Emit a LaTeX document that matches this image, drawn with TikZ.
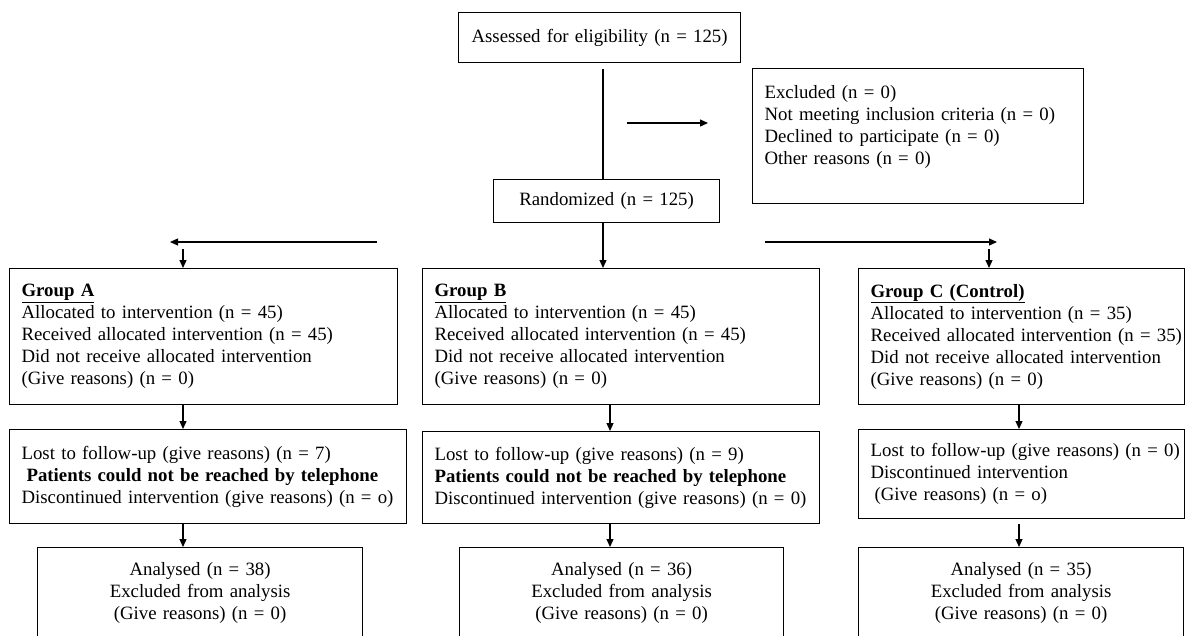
\documentclass[tikz,border=0pt]{standalone}
\usepackage{fontspec}
\setmainfont{Liberation Serif}
\usetikzlibrary{arrows.meta}

\begin{document}
\begin{tikzpicture}[x=1pt, y=-1pt, line join=miter,
    >={Triangle[length=8pt,width=7pt]},
    flowbox/.style={draw, line width=1.2pt, anchor=north west, inner xsep=12pt, inner ysep=4pt,
      align=center, font=\fontsize{18.8}{22}\selectfont},
    listbox/.style={flowbox, align=left},
    link/.style={line width=1.2pt}]

  \useasboundingbox (0,0) rectangle (1185,635);
  \clip (0,0) rectangle (1185,635);

  % columns of the vertical connectors
  \coordinate (colT) at (603,0);
  \coordinate (colA) at (183,0);
  \coordinate (colB) at (610,0);
  \coordinate (colC) at (1019,0);

  % enrolment
  \node[flowbox, text width=258pt, minimum height=50pt] (assess) at (458,12) {Assessed for eligibility (n = 125)};
  \node[listbox, text width=307pt, minimum height=135pt] (excluded) at (752,68)
    {Excluded (n = 0)\\ Not meeting inclusion criteria (n = 0)\\ Declined to participate (n = 0)\\ Other reasons (n = 0)\\ \mbox{}};
  \node[flowbox, text width=202pt, minimum height=43pt] (random) at (493,179) {Randomized (n = 125)};

  % allocation
  \node[listbox, text width=364pt, minimum height=136pt] (groupA) at (9,268)
    {\underline{\textbf{Group A}}\\ Allocated to intervention (n = 45)\\ Received allocated intervention (n = 45)\\
     Did not receive allocated intervention\\ (Give reasons) (n = 0)};
  \node[listbox, text width=373pt, minimum height=136pt] (groupB) at (422,268)
    {\underline{\textbf{Group B}}\\ Allocated to intervention (n = 45)\\ Received allocated intervention (n = 45)\\
     Did not receive allocated intervention\\ (Give reasons) (n = 0)};
  \node[listbox, text width=302pt, minimum height=136pt] (groupC) at (858,268)
    {\underline{\textbf{Group C (Control)}}\\ Allocated to intervention (n = 35)\\ \mbox{Received allocated intervention (n = 35)}\\
     Did not receive allocated intervention\\ (Give reasons) (n = 0)};

  % follow-up
  \node[listbox, text width=373pt, minimum height=94pt] (lossA) at (9,429)
    {Lost to follow-up (give reasons) (n = 7)\\ \hspace*{5pt}\textbf{Patients could not be reached by telephone}\\
     Discontinued intervention (give reasons) (n = o)};
  \node[listbox, text width=373pt, minimum height=92pt] (lossB) at (422,431)
    {Lost to follow-up (give reasons) (n = 9)\\ \textbf{Patients could not be reached by telephone}\\
     Discontinued intervention (give reasons) (n = 0)};
  \node[listbox, text width=302pt, minimum height=89pt] (lossC) at (858,429)
    {\mbox{Lost to follow-up (give reasons) (n = 0)}\\ Discontinued intervention\\ \hspace*{4pt}(Give reasons) (n = o)};

  % analysis
  \node[flowbox, text width=301pt, minimum height=91pt] (analysA) at (37,547)
    {Analysed (n = 38)\\ Excluded from analysis\\ (Give reasons) (n = 0)};
  \node[flowbox, text width=300pt, minimum height=91pt] (analysB) at (459,547)
    {Analysed (n = 36)\\ Excluded from analysis\\ (Give reasons) (n = 0)};
  \node[flowbox, text width=301pt, minimum height=91pt] (analysC) at (858,547)
    {Analysed (n = 35)\\ Excluded from analysis\\ (Give reasons) (n = 0)};

  % connectors
  \draw[link] ([yshift=-6pt]assess.south -| colT) -- (random.north -| colT);
  \coordinate (exclFrom) at (627,123);
  \coordinate (exclTo) at (708,123);
  \draw[link,->] (exclFrom) -- (exclTo);
  \draw[link,->] (random.south -| colT) -- (groupB.north -| colT);

  \coordinate (leftFrom) at (377,242);
  \coordinate (leftTo) at (170,242);
  \coordinate (rightFrom) at (765,242);
  \coordinate (rightTo) at (997,242);
  \draw[link,->] (leftFrom) -- (leftTo);
  \draw[link,->] (rightFrom) -- (rightTo);
  \coordinate (dropA) at (183,249);
  \coordinate (dropC) at (989,249);
  \draw[link,->] (dropA) -- (groupA.north -| dropA);
  \draw[link,->] (dropC) -- (groupC.north -| dropC);

  \foreach \g/\col/\gap in {A/colA/0, B/colB/0, C/colC/5}{
    \draw[link,->] (group\g.south -| \col) -- (loss\g.north -| \col);
    \draw[link,->] ([yshift=-\gap pt]loss\g.south -| \col) -- (analys\g.north -| \col);
  }

\end{tikzpicture}
\end{document}
